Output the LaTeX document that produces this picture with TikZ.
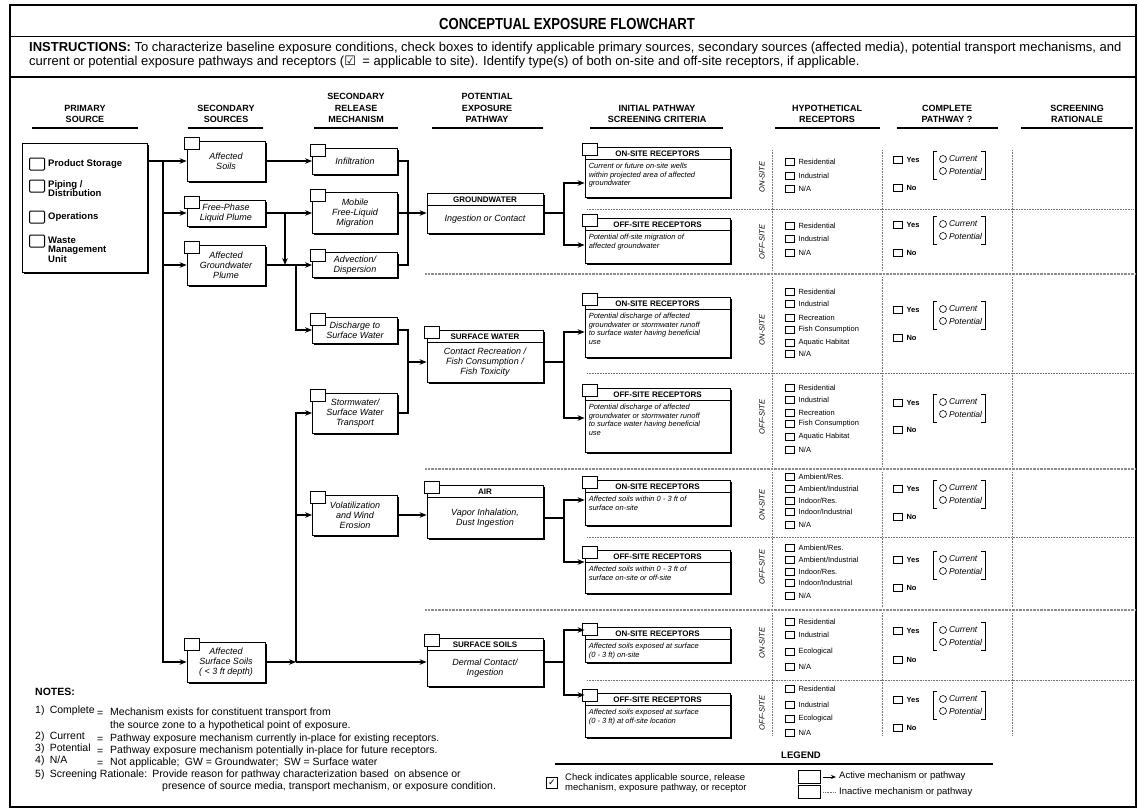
\documentclass[tikz,border=0pt]{standalone}
\usepackage{fontspec}
\setmainfont{Liberation Sans}
\newfontfamily\narrowfont[FakeStretch=0.82]{Liberation Sans}
\newfontfamily\symfont{DejaVu Sans}
\usetikzlibrary{positioning,shapes,arrows.meta,calc,shadows}

\newcommand\fs[2]{\fontsize{#1}{#2}\selectfont}

\tikzset{
  sbox/.style={draw, line width=0.8pt, fill=white, align=center, inner sep=1pt,
    font=\fs{9}{10}\itshape,
    drop shadow={shadow xshift=1.5pt, shadow yshift=-1.5pt, fill=black, opacity=1}},
  pbox/.style={sbox, minimum width=116},
  rbox/.style={sbox, minimum width=145},
  tabbox/.style={draw, line width=0.7pt, fill=white},
  phead/.style={font=\fs{8}{9}\bfseries, inner sep=0pt},
  pbody/.style={font=\fs{9}{10}\itshape, align=center, inner sep=0pt},
  rbody/.style={font=\fs{7.5}{8.8}\itshape, align=left, inner sep=0pt, anchor=north west},
  flow/.style={line width=1.5pt, -{Stealth[length=7pt,width=5.5pt]}},
  link/.style={line width=1.5pt},
  hdr/.style={font=\fs{9}{11.5}\bfseries, align=center, anchor=south, inner sep=0pt},
  uline/.style={line width=1.8pt},
  pcb/.style={draw, line width=1pt, minimum width=15, minimum height=12, inner sep=0pt, rounded corners=1pt},
  ptxt/.style={font=\fs{9.5}{9.5}\bfseries, align=left, anchor=west, inner sep=0pt},
  cb/.style={draw, line width=0.6pt, minimum width=9, minimum height=7, inner sep=0pt},
  rtxt/.style={font=\fs{7.5}{8}, inner sep=0pt},
  yn/.style={font=\fs{7.5}{8}\bfseries, inner sep=0pt},
  circ/.style={draw, circle, line width=0.6pt, minimum size=7, inner sep=0pt},
  pot/.style={font=\fs{8.5}{9}\itshape, inner sep=0pt},
  brk/.style={line width=0.7pt},
  side/.style={font=\fs{7.5}{8}\itshape, rotate=90, inner sep=0pt},
  grid/.style={black!55, line width=0.6pt, dash pattern=on 0.6pt off 1pt},
  sepline/.style={black!45, line width=2.5pt, dash pattern=on 0.7pt off 0.7pt},
  note/.style={font=\fs{10.5}{11}, anchor=west, inner sep=0pt},
}

% check tab on the corner of a box
\newcommand\cktab[1]{\draw[tabbox] ([shift={(-2pt,3pt)}]#1.north west) rectangle ++(15pt,-12pt);}

% pathway box: name, top, bottom, header, body
\newcommand\pathbox[5]{%
  \node[pbox, minimum height={#3-#2}] (#1) at (485,{(#2+#3)/2}) {};
  \draw[line width=0.6pt] ([yshift=-13pt]#1.north west) -- ([yshift=-13pt]#1.north east);
  \node[phead] (#1h) at ([yshift=-7pt]#1.north) {#4};
  \node[pbody] (#1b) at ($([yshift=-13pt]#1.north)!0.5!(#1.south)$) {#5};}

% receptor box: name, top, bottom, header, body
\newcommand\rcptbox[5]{%
  \node[rbox, minimum height={#3-#2}] (#1) at (657.5,{(#2+#3)/2}) {};
  \draw[line width=0.6pt] ([yshift=-13pt]#1.north west) -- ([yshift=-13pt]#1.north east);
  \node[phead] (#1h) at ([yshift=-7pt]#1.north) {#4};
  \node[rbody] (#1b) at ([shift={(4pt,-16pt)}]#1.north west) {#5};
  \cktab{#1}}

% hypothetical receptors: id, list of y/label
\newcommand\recs[2]{%
  \foreach \yy/\lbl [count=\k] in {#2} {
    \node[cb] (r#1\k) at (789.5,\yy) {};
    \node[rtxt, right=4pt of r#1\k] (rt#1\k) {\lbl};}}

% complete pathway: id, yes y, no y
\newcommand\yesno[3]{%
  \node[cb] (y#1) at (897.5,#2) {};
  \node[yn, right=4pt of y#1] (yt#1) {Yes};
  \node[cb] (n#1) at (897.5,#3) {};
  \node[yn, right=4pt of n#1] (nt#1) {No};
  \node[circ] (c#1) at (943,#2-1) {};
  \node[pot, right=2pt of c#1] (ct#1) {Current};
  \node[circ] (p#1) at (943,#2+11) {};
  \node[pot, right=2pt of p#1] (pot#1) {Potential};
  \draw[brk] (937,#2-9) -- (933,#2-9) -- (933,#2+19) -- (937,#2+19);
  \draw[brk] (981,#2-9) -- (985,#2-9) -- (985,#2+19) -- (981,#2+19);}

\begin{document}
\begin{tikzpicture}[x=1pt,y=-1pt]
    \useasboundingbox (0,0) rectangle (1139,811);
    \draw[line width=1.2pt] (10,5) rectangle (1136,807);

    % title and instructions
    \node[font=\narrowfont\fs{16}{18}\bfseries, inner sep=0pt] (ttl) at (567,24) {CONCEPTUAL EXPOSURE FLOWCHART};
    \draw[line width=1pt] (10,36) -- (1136,36);
    \node[font=\fs{13}{14}, anchor=west, inner sep=0pt] (ins1) at (29,48)
        {\textbf{INSTRUCTIONS:} To characterize baseline exposure conditions, check boxes to identify applicable primary sources, secondary sources (affected media), potential transport mechanisms, and};
    \node[font=\fs{13}{14}, anchor=west, inner sep=0pt] (ins2) at (29,62)
        {current or potential exposure pathways and receptors ({\symfont ☑}\enspace = applicable to site). Identify type(s) of both on-site and off-site receptors, if applicable.};
    \draw[line width=2pt] (10,77) -- (1136,77);

    % column headers
    \node[hdr] (hd1) at (85,123) {PRIMARY\\SOURCE};
    \node[hdr] (hd2) at (226,123) {SECONDARY\\SOURCES};
    \node[hdr] (hd3) at (356,123) {SECONDARY\\RELEASE\\MECHANISM};
    \node[hdr] (hd4) at (487,123) {POTENTIAL\\EXPOSURE\\PATHWAY};
    \node[hdr] (hd5) at (657,123) {INITIAL PATHWAY\\SCREENING CRITERIA};
    \node[hdr] (hd6) at (827,123) {HYPOTHETICAL\\RECEPTORS};
    \node[hdr] (hd7) at (947,123) {COMPLETE\\PATHWAY ?};
    \node[hdr] (hd8) at (1077,123) {SCREENING\\RATIONALE};
    \foreach \xa/\xb in {32/138,188/263,314/398,432/543,590/723,775/880,897/998,1021/1133}
        \draw[uline] (\xa,128) -- (\xb,128);

    % dotted grid of the receptor columns
    \foreach \xx in {772,882,1012}
        \foreach \ya/\yb in {150/271,277/466,472/607,613/736}
            \draw[grid] (\xx,\ya) -- (\xx,\yb);
    \foreach \yy in {209,373,537,680}
        \draw[grid] (587,\yy) -- (1133,\yy);
    \foreach \yy in {274,469,610}
        \draw[sepline] (425,\yy) -- (1136,\yy);

    % primary source
    \node[sbox, minimum width=125, minimum height=129] (prim) at (84.5,207.5) {};
    \node[pcb] (src1) at (37,164) {};
    \node[ptxt] (srct1) at (48,164) {Product Storage};
    \node[pcb] (src2) at (37,186) {};
    \node[ptxt] (srct2) at (48,188.5) {Piping /\\Distribution};
    \node[pcb] (src3) at (37,217) {};
    \node[ptxt] (srct3) at (48,217) {Operations};
    \node[pcb] (src4) at (37,241) {};
    \node[ptxt] (srct4) at (48,249.5) {Waste\\Management\\Unit};

    % secondary sources
    \node[sbox, minimum width=78, minimum height=40] (soils) at (226,161) {Affected\\Soils};
    \node[sbox, minimum width=78, minimum height=26] (fphase) at (226,213) {Free-Phase\\Liquid Plume};
    \node[sbox, minimum width=78, minimum height=40] (gwplume) at (226,265) {Affected\\Groundwater\\Plume};
    \node[sbox, minimum width=78, minimum height=40] (ssoils) at (226,662) {Affected\\Surface Soils\\( < 3 ft depth)};

    % secondary release mechanisms
    \node[sbox, minimum width=85, minimum height=26] (infil) at (355,161) {Infiltration};
    \node[sbox, minimum width=85, minimum height=41] (mobile) at (355,213) {Mobile\\Free-Liquid\\Migration};
    \node[sbox, minimum width=85, minimum height=25] (advect) at (355,265) {Advection/\\Dispersion};
    \node[sbox, minimum width=85, minimum height=26] (dischg) at (355,330) {Discharge to\\Surface Water};
    \node[sbox, minimum width=85, minimum height=40] (storm) at (355,413) {Stormwater/\\Surface Water\\Transport};
    \node[sbox, minimum width=85, minimum height=40] (volat) at (355,515) {Volatilization\\and Wind\\Erosion};
    \foreach \n in {soils,fphase,gwplume,ssoils,infil,mobile,advect,dischg,storm,volat}
        {\cktab{\n}}

    % exposure pathways
    \pathbox{gw}{193}{233}{GROUNDWATER}{Ingestion or Contact}
    \pathbox{sw}{330}{382}{SURFACE WATER}{Contact Recreation /\\Fish Consumption /\\Fish Toxicity}
    \pathbox{air}{485}{538}{AIR}{Vapor Inhalation,\\Dust Ingestion}
    \pathbox{sp}{638}{686}{SURFACE SOILS}{Dermal Contact/\\Ingestion}
    \cktab{sw} \cktab{air} \cktab{sp}

    % screening criteria
    \rcptbox{on1}{147}{197}{ON-SITE RECEPTORS}{Current or future on-site wells\\within projected area of affected\\groundwater}
    \rcptbox{off1}{218}{263}{OFF-SITE RECEPTORS}{Potential off-site migration of\\affected groundwater}
    \rcptbox{on2}{297}{357}{ON-SITE RECEPTORS}{Potential discharge of affected\\groundwater or stormwater runoff\\to surface water having beneficial\\use}
    \rcptbox{off2}{388}{452}{OFF-SITE RECEPTORS}{Potential discharge of affected\\groundwater or stormwater runoff\\to surface water having beneficial\\use}
    \rcptbox{on3}{480}{525}{ON-SITE RECEPTORS}{Affected soils within 0 - 3 ft of\\surface on-site}
    \rcptbox{off3}{550}{593}{OFF-SITE RECEPTORS}{Affected soils within 0 - 3 ft of\\surface on-site or off-site}
    \rcptbox{on4}{627}{662}{ON-SITE RECEPTORS}{Affected soils exposed at surface\\(0 - 3 ft) on-site}
    \rcptbox{off4}{693}{737}{OFF-SITE RECEPTORS}{Affected soils exposed at surface\\(0 - 3 ft) at off-site location}

    % connectors: sources
    \coordinate (bus) at (163,161);
    \draw[flow] (prim.east |- soils) -- (soils);
    \draw[flow] (bus) |- (fphase);
    \draw[flow] (bus) |- (gwplume);
    \draw[flow] (bus) |- (ssoils);
    \draw[flow] (soils) -- (infil);
    \draw[flow] (fphase) -- (mobile);
    \coordinate (fpj) at (285,213);
    \draw[flow] (fpj) -- (fpj |- gwplume);
    \draw[flow] (gwplume) -- (advect);
    \coordinate (gwj) at (296,265);
    \draw[flow] (gwj) |- (dischg);
    \coordinate (ssj) at (296,662);
    \draw[flow] (ssoils) -- (ssj);
    \draw[flow] (ssj) |- (storm);
    \draw[flow] (ssj) |- (volat);
    \draw[flow] (ssj) -- (ssj -| sp.west);

    % connectors: mechanisms
    \coordinate (gwin) at (408,213);
    \draw[link] (infil) -| (gwin);
    \draw[link] (advect) -| (gwin);
    \draw[flow] (mobile) -- (gw);
    \coordinate (swin) at (408,362);
    \draw[link] (dischg) -| (swin);
    \draw[link] (storm) -| (swin);
    \draw[flow] (swin) -- (swin -| sw.west);
    \draw[flow] (volat) -- (volat -| air.west);

    % connectors: pathways to receptors
    \coordinate (gwout) at (564,213);
    \draw[link] (gw) -- (gwout);
    \draw[flow] (gwout) |- ([yshift=-11pt]on1.west);
    \draw[flow] (gwout) |- ([yshift=-4.5pt]off1.west);
    \coordinate (swout) at (564,362);
    \draw[link] (sw.east |- swout) -- (swout);
    \draw[flow] (swout) |- ([yshift=-5pt]on2.west);
    \draw[flow] (swout) |- ([yshift=2pt]off2.west);
    \coordinate (airout) at (564,518);
    \draw[link] (air.east |- airout) -- (airout);
    \draw[flow] (airout) |- ([yshift=2.5pt]on3.west);
    \draw[flow] (airout) |- ([yshift=9.5pt]off3.west);
    \coordinate (spout) at (564,662);
    \draw[link] (sp.east |- spout) -- (spout);
    \draw[flow] (spout) |- ([yshift=14.5pt]on4.west);
    \draw[flow] (spout) |- ([yshift=20pt]off4.west);

    % on-site / off-site labels
    \foreach \yy/\lbl [count=\k] in {177/ON-SITE,242/OFF-SITE,330/ON-SITE,417/OFF-SITE,505/ON-SITE,567/OFF-SITE,643/ON-SITE,713/OFF-SITE}
        \node[side] (side\k) at (762,\yy) {\lbl};

    % hypothetical receptors
    \recs{1}{162/Residential,176/Industrial,189/{N/A}}
    \recs{2}{226/Residential,239/Industrial,253/{N/A}}
    \recs{3}{292/Residential,304/Industrial,318/Recreation,330/Fish Consumption,343/Aquatic Habitat,354/{N/A}}
    \recs{4}{388/Residential,400/Industrial,413/Recreation,424/Fish Consumption,437/Aquatic Habitat,450/{N/A}}
    \recs{5}{477/{Ambient/Res.},489/{Ambient/Industrial},501/{Indoor/Res.},512/{Indoor/Industrial},525/{N/A}}
    \recs{6}{548/{Ambient/Res.},560/{Ambient/Industrial},572/{Indoor/Res.},583/{Indoor/Industrial},596/{N/A}}
    \recs{7}{622/Residential,635/Industrial,652/Ecological,667/{N/A}}
    \recs{8}{689/Residential,705/Industrial,719/Ecological,733/{N/A}}

    % complete pathway
    \yesno{1}{160}{188}
    \yesno{2}{225}{253}
    \yesno{3}{310}{338}
    \yesno{4}{403}{430}
    \yesno{5}{489}{517}
    \yesno{6}{560}{588}
    \yesno{7}{631}{660}
    \yesno{8}{700}{728}

    % notes
    \node[note, font=\fs{10.5}{11}\bfseries] (notes) at (35,692) {NOTES:};
    \node[note] (nt1) at (35,711) {1)\enspace Complete};
    \node[note] (eq1) at (97,714) {=};
    \node[note] (tx1) at (110,713) {Mechanism exists for constituent transport from};
    \node[note] (tx1b) at (110,726) {the source zone to a hypothetical point of exposure.};
    \node[note] (nt2) at (35,737) {2)\enspace Current};
    \node[note] (eq2) at (97,740) {=};
    \node[note] (tx2) at (110,739) {Pathway exposure mechanism currently in-place for existing receptors.};
    \node[note] (nt3) at (35,749) {3)\enspace Potential};
    \node[note] (eq3) at (97,752) {=};
    \node[note] (tx3) at (110,751) {Pathway exposure mechanism potentially in-place for future receptors.};
    \node[note] (nt4) at (35,761) {4)\enspace N/A};
    \node[note] (eq4) at (97,763.5) {=};
    \node[note] (tx4) at (110,762.5) {Not applicable;\enspace GW = Groundwater;\enspace SW = Surface water};
    \node[note] (nt5) at (35,774.5) {5)\enspace Screening Rationale:\enspace Provide reason for pathway characterization based\enspace on absence or};
    \node[note] (tx5) at (162,787) {presence of source media, transport mechanism, or exposure condition.};

    % legend
    \node[font=\fs{9.5}{10}\bfseries, inner sep=0pt] (leg) at (801,755) {LEGEND};
    \draw[line width=1.2pt] (555,764) -- (993,764);
    \node[draw, line width=0.9pt, minimum size=11, inner sep=0pt, font=\symfont\fs{9}{9}\bfseries] (lchk) at (552,783) {✓};
    \node[font=\fs{9.5}{10.5}, anchor=west, inner sep=0pt, align=left] (ltxt) at (565,783) {Check indicates applicable source, release\\mechanism, exposure pathway, or receptor};
    \node[draw, line width=0.9pt, minimum width=22, minimum height=13, inner sep=0pt] (lact) at (809,777) {};
    \node[draw, line width=0.9pt, minimum width=22, minimum height=13, inner sep=0pt] (lina) at (809,792) {};
    \coordinate (lacte) at (836,777);
    \coordinate (linae) at (836,792);
    \draw[line width=1pt, -{Stealth[length=5pt,width=4pt]}] ([xshift=3pt]lact.east) -- (lacte);
    \draw[grid] ([xshift=3pt]lina.east) -- (linae);
    \node[font=\fs{9.5}{10}, anchor=west, inner sep=0pt] (lt1) at (839,776) {Active mechanism or pathway};
    \node[font=\fs{9.5}{10}, anchor=west, inner sep=0pt] (lt2) at (839,792) {Inactive mechanism or pathway};
\end{tikzpicture}
\end{document}
